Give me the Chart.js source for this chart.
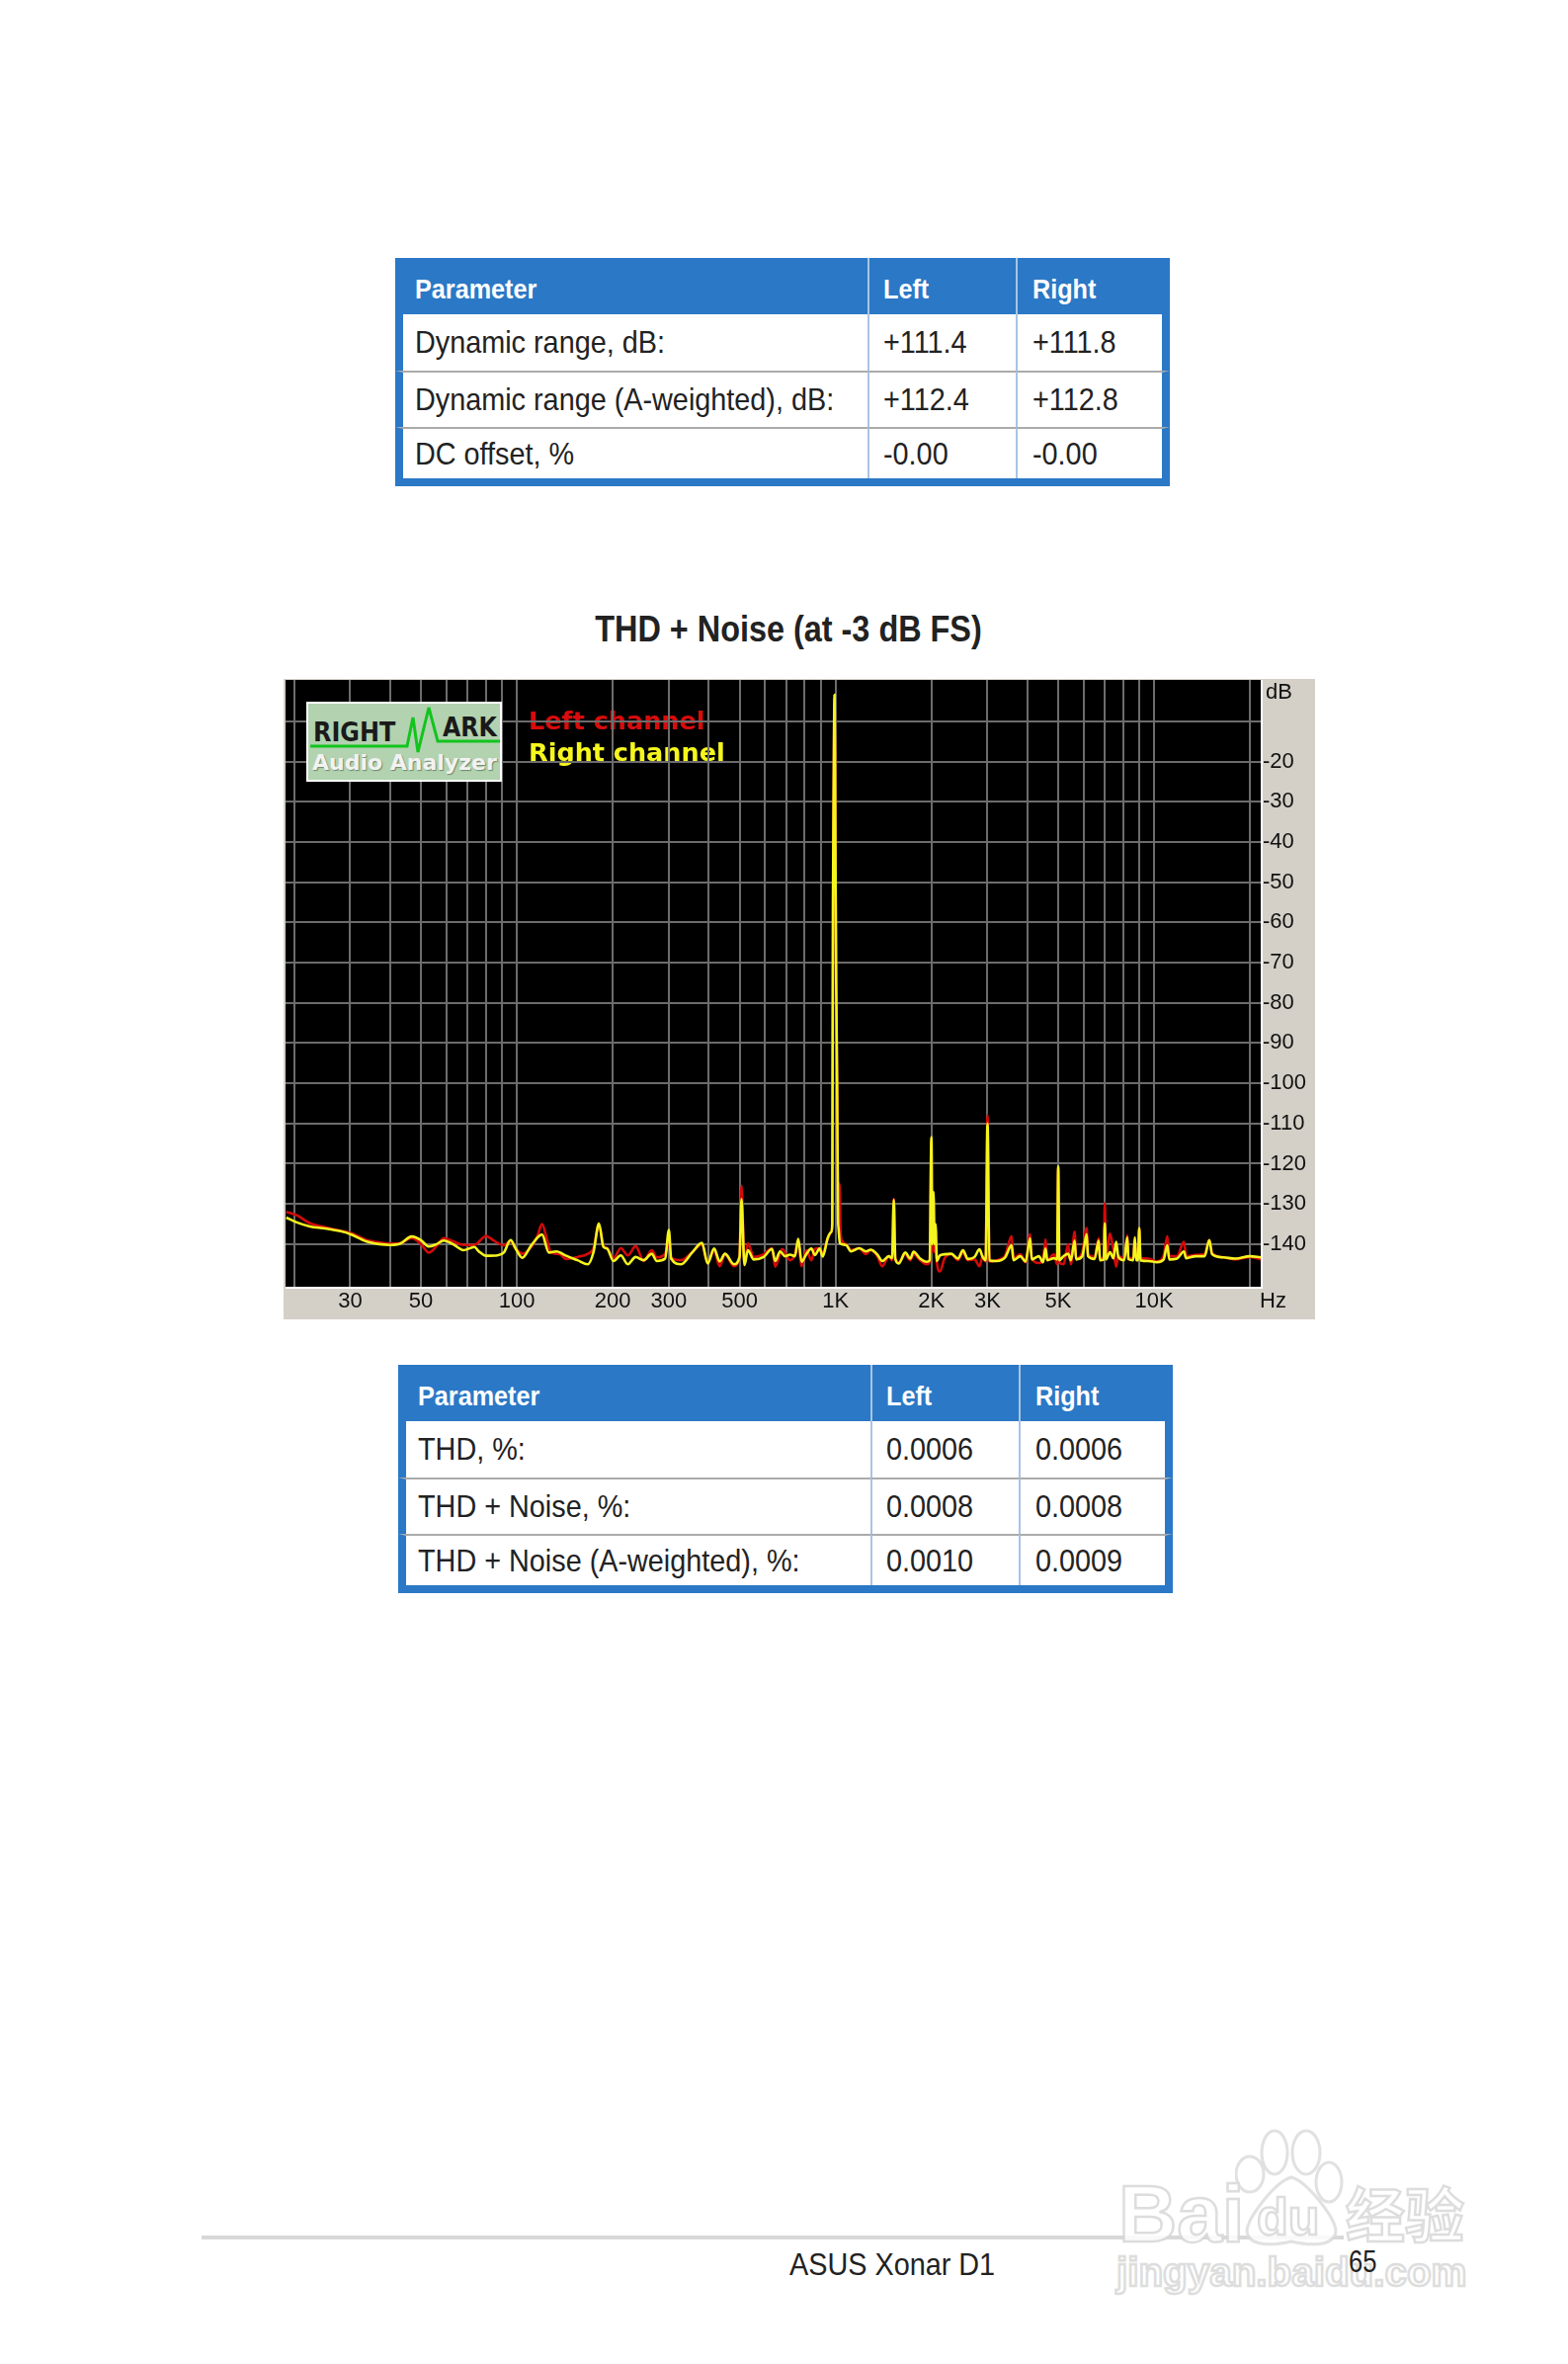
<!DOCTYPE html>
<html>
<head>
<meta charset="utf-8">
<title>THD + Noise</title>
<script src="https://cdn.jsdelivr.net/npm/chart.js@4"></script>
<style>
  html, body { margin: 0; padding: 0; background: #fff; }
  #page { position: relative; width: 1587px; height: 2392px; overflow: hidden; font-family: "Liberation Sans", Arial, sans-serif; color: #222; }
  .abs { position: absolute; white-space: nowrap; }
  table.params { position: absolute; table-layout: fixed; border-collapse: separate; border-spacing: 0; width: 784px; font-size: 32px; border-bottom: 8px solid #2b78c6; white-space: nowrap; }
  table.params th { background: #2b78c6; color: #fff; font-size: 28px; font-weight: bold; text-align: left; height: 57px; padding: 6px 0 0 0; box-sizing: border-box; }
  table.params td { background: #fff; height: 57px; padding: 0; box-sizing: border-box; border-top: 2px solid #ababab; }
  table.params th + th { border-left: 2px solid #a9c4e4; }
  table.params td + td { border-left: 2px solid #a9c4e4; }
  table.params tr > :first-child { border-left: 8px solid #2b78c6; padding-left: 12px; }
  table.params tr > :nth-child(2) { padding-left: 14px; }
  table.params tr > :nth-child(3) { border-right: 8px solid #2b78c6; padding-left: 15px; }
  table.params tr:nth-child(2) td { border-top: 0; }
  table.params span { display: inline-block; transform-origin: 0 50%; transform: scaleX(0.9); }
  #panel { position: absolute; left: 287px; top: 687px; }
  #logo { position: absolute; left: 310px; top: 710px; width: 198px; height: 81px; box-sizing: border-box; border: 2px solid #fff; background: #b2d2b0; overflow: hidden; font-family: "DejaVu Sans", sans-serif; font-weight: bold; }
  #logo div { position: absolute; white-space: nowrap; line-height: 1; transform-origin: 0 0; }
  #mark { opacity: 0.85; }
  #mark .w { position: absolute; white-space: nowrap; line-height: 1; color: #fff; -webkit-text-stroke: 2.5px #d8d8d8; font-weight: bold; }
</style>
</head>
<body>
<div id="page">
  <table class="params" id="table1" style="left:400px;top:261px"></table>

  <div class="abs" id="title" style="left:798px;top:637px;font-size:36px;font-weight:bold;transform:translate(-50%,-50%) scaleX(0.9);color:#222">THD + Noise (at -3 dB FS)</div>

  <canvas id="panel" width="1044" height="648"></canvas>

  <div id="logo">
    <div style="left:5px;top:16px;font-size:26px;color:#1a1a1a;transform:scaleX(0.92)">RIGHT</div>
    <div style="left:136px;top:11px;font-size:26px;color:#1a1a1a;transform:scaleX(0.91)">ARK</div>
    <svg width="194" height="77" style="position:absolute;left:0;top:0">
      <polyline points="2,43 100,43 106,14 111,49 122,4 131,38 194,38" fill="none" stroke="#12c41e" stroke-width="3"/>
    </svg>
    <div style="left:4px;top:49px;font-size:22px;color:#f2f2f2;text-shadow:1px 1px 1px #6d8a6c">Audio Analyzer</div>
  </div>

  <table class="params" id="table2" style="left:403px;top:1381px"></table>

  <div class="abs" style="left:204px;top:2262px;width:1156px;height:4px;background:#d8d8d8"></div>
  <div class="abs" style="left:799px;top:2291px;font-size:32px;transform-origin:0 50%;transform:translateY(-50%) scaleX(0.9)">ASUS Xonar D1</div>

  <div id="mark">
    <svg class="abs" style="left:1250px;top:2150px" width="120" height="130">
      <g fill="#fff" stroke="#dcdcdc" stroke-width="3">
        <ellipse cx="15" cy="50" rx="14" ry="18"/>
        <ellipse cx="40" cy="28" rx="13" ry="22"/>
        <ellipse cx="72" cy="28" rx="14" ry="22"/>
        <ellipse cx="95" cy="58" rx="13" ry="20"/>
        <path d="M57 53 C40 58 12 95 12 108 C14 124 40 122 57 118 C74 122 100 124 102 108 C102 95 74 58 57 53 Z"/>
      </g>
    </svg>
    <div class="w" style="left:1132px;top:2199px;font-size:82px">Bai</div>
    <div class="w" style="left:1272px;top:2217px;font-size:52px">du</div>
    <div class="w" style="left:1362px;top:2208px;font-size:60px;font-family:'Noto Sans CJK SC',sans-serif">经验</div>
    <div class="w" style="left:1130px;top:2279px;font-size:41px;transform-origin:0 0;transform:scaleX(0.985)">jingyan.baidu.com</div>
  </div>
  <div class="abs" style="left:1365px;top:2288px;font-size:32px;transform-origin:0 50%;transform:translateY(-50%) scaleX(0.8)">65</div>
</div>

<script>
// Tables
const tableHeader = ['Parameter', 'Left', 'Right'];
const dynamicRows = [
  ['Dynamic range, dB:', '+111.4', '+111.8'],
  ['Dynamic range (A-weighted), dB:', '+112.4', '+112.8'],
  ['DC offset, %', '-0.00', '-0.00']
];
const thdRows = [
  ['THD, %:', '0.0006', '0.0006'],
  ['THD + Noise, %:', '0.0008', '0.0008'],
  ['THD + Noise (A-weighted), %:', '0.0010', '0.0009']
];

// Axis ticks
const freqGrid = [20, 30, 40, 50, 60, 70, 80, 90, 100, 200, 300, 400, 500, 600, 700, 800, 900,
  1000, 2000, 3000, 4000, 5000, 6000, 7000, 8000, 9000, 10000, 20000];
const freqLabels = { 30: '30', 50: '50', 100: '100', 200: '200', 300: '300', 500: '500',
  1000: '1K', 2000: '2K', 3000: '3K', 5000: '5K', 10000: '10K' };
const dbGrid = [-10, -20, -30, -40, -50, -60, -70, -80, -90, -100, -110, -120, -130, -140];

// Spectrum, [Hz, dB]
const leftChannel = [
  [18.9,-132],[20.4,-132.8],[22.4,-134.8],[25,-135.8],[28,-136.7],[30,-137.2],[33.6,-138.9],[37,-139.6],
  [40,-139.9],[43,-139.8],[46.8,-138.5],[50,-140],[53,-142.1],[56,-140.5],[59,-138.5],[63,-139.3],
  [68,-140.2],[73.6,-140.2],[80,-138],[85,-139.2],[91,-140.3],[95.6,-139.3],[99,-141],[104,-142.4],
  [111,-140.7],[116,-138],[120,-135],[124,-138.5],[128,-142.1],[136,-142.5],[143,-143.7],[155,-143.2],
  [167,-142.4],[174,-141],[181,-135.2],[187,-140.5],[192,-141],[201,-143.5],[212,-141],[223,-142.8],
  [236,-140.5],[250,-144.2],[265,-141.5],[275,-143.3],[292,-142.4],[300,-139.5],[305,-143.4],[328,-144],
  [355,-142],[381,-140],[397,-144.5],[416,-141.5],[433,-145.5],[450,-142.5],[480,-145.5],[500,-143],
  [507,-125.5],[518,-145],[531,-139.8],[554,-143.2],[595,-142.5],[632,-141],[647,-145.6],[680,-141.2],
  [720,-144],[746,-142.5],[764,-139],[783,-145.5],[811,-141.5],[840,-144],[861,-141.2],[880,-141],
  [913,-142],[947,-138.5],[970,-137],[977,-135.5],
  [979,-105],[982,-58],[987,-28],[993,-4],[997,-24],[1000,-48],[1005,-78],[1012,-104],
  [1020,-128],[1029,-125],[1036,-136],[1045,-139],[1079,-140],
  [1118,-141.5],[1187,-141],[1245,-142.5],[1290,-141.5],[1353,-143],[1402,-145.5],[1470,-143],[1505,-144],
  [1524,-128.7],[1540,-143.5],[1579,-144.5],[1656,-142.5],[1716,-144],[1758,-142.5],[1843,-144],[1933,-145],
  [1975,-144.5],[2000,-114],[2012,-142],[2030,-128],[2045,-142],[2060,-136],[2080,-144.5],[2128,-146.8],
  [2200,-143.5],[2310,-142.5],[2423,-144],[2512,-142],[2603,-144],[2731,-143.8],[2830,-145.5],[2897,-143],
  [2960,-144.3],[3000,-108],[3040,-144.3],[3200,-144],[3400,-143],[3570,-138],[3620,-143.6],[3800,-142.5],
  [3950,-144.5],[4080,-137.5],[4130,-143.5],[4350,-144.7],[4480,-144],[4560,-138.8],[4620,-144],[4850,-142.5],
  [4960,-145],[5000,-121],[5040,-144.5],[5200,-145],[5370,-140],[5480,-145],[5630,-136.9],[5690,-143.5],
  [5950,-142],[6140,-136],[6200,-142.5],[6500,-143.2],[6700,-138.5],[6760,-143.5],[6950,-143.5],[7000,-129.8],
  [7060,-143.5],[7270,-137.4],[7450,-141.5],[7600,-145.6],[7720,-143],[8050,-143.5],[8240,-137.8],[8300,-143.5],
  [8600,-143.5],[8700,-138.3],[8780,-143.7],[8900,-143.7],[8980,-136],[9060,-143.5],[9600,-143.6],[10200,-144.3],
  [10700,-143],[11000,-138],[11150,-143],[11800,-143],[12400,-139.4],[12600,-143],[13500,-142.7],[14400,-142.5],
  [14900,-139],[15200,-142.3],[16500,-143.3],[18000,-143.8],[20000,-143.2],[21600,-143.8]
];
const rightChannel = [
  [18.9,-133.4],[20.4,-134.6],[22.4,-135.6],[25,-136.1],[28,-136.8],[30,-137.5],[33.6,-139.3],[37,-140],
  [40,-140.2],[43,-139.9],[46.8,-138.1],[50,-139],[53,-140.6],[56,-140],[59,-139.1],[63,-140],
  [68,-141.5],[73.6,-140.7],[76,-141.8],[80,-142.9],[87,-142.8],[91,-142.1],[95.6,-139],[99,-141],
  [104,-143.4],[111,-140.3],[120,-137.6],[126,-142.1],[133,-141.8],[143,-142.9],[155,-144],[167,-145],
  [174,-142],[181,-134.9],[187,-140.7],[192,-141.1],[201,-144.2],[212,-142.8],[223,-145],[236,-143.2],
  [250,-144],[265,-142.4],[275,-144.2],[292,-143.6],[300,-136.5],[305,-143.6],[328,-145],[355,-142.1],
  [381,-139.7],[397,-144.8],[416,-141.1],[433,-144.3],[450,-142.4],[480,-145],[500,-143.2],[507,-128.8],
  [518,-145.2],[531,-141.5],[554,-143.8],[595,-143.2],[632,-141.2],[647,-144.2],[670,-141.8],[695,-143],
  [720,-142.6],[746,-143],[764,-138.7],[783,-144.4],[811,-142.4],[840,-141.1],[861,-142.7],[892,-141.1],
  [912,-143.1],[947,-138.3],[970,-137],[977,-135],[979,-100],
  [982,-55],[987,-25],[993,-3.4],[997,-22],[1000,-45],[1005,-75],[1012,-100],[1018,-133],
  [1022,-136],[1032,-139.8],[1079,-140.2],[1118,-141.8],
  [1187,-141],[1245,-141.8],[1290,-141.4],[1353,-142.6],[1402,-144.2],[1470,-143],[1505,-143.5],[1524,-129],
  [1540,-143.6],[1579,-144.8],[1656,-142.1],[1716,-143.6],[1758,-141.9],[1843,-143.6],[1933,-144.4],[1975,-144],
  [2000,-113.4],[2012,-140],[2030,-127],[2045,-140],[2060,-135],[2080,-144.2],[2128,-142.8],[2310,-142.4],
  [2423,-143.6],[2512,-141.5],[2603,-143.7],[2731,-143.2],[2830,-141.3],[2897,-143.2],[2960,-144],[3000,-110],
  [3040,-144],[3200,-144.2],[3400,-143.4],[3570,-140.3],[3620,-144],[3800,-143],[3950,-144.3],[4080,-138.6],
  [4130,-143.8],[4350,-143],[4480,-144.5],[4560,-141.1],[4620,-144],[4850,-143.5],[4960,-143.8],[5000,-120.7],
  [5040,-144],[5200,-143],[5370,-142.4],[5480,-144],[5630,-139.1],[5690,-143.8],[5950,-143],[6140,-137.5],
  [6200,-143],[6500,-143.7],[6700,-139.1],[6760,-144],[6950,-143.8],[7000,-134.8],[7060,-143.8],[7270,-142],
  [7450,-143.5],[7600,-139.4],[7720,-143.2],[8050,-144],[8240,-138.3],[8300,-143.7],[8600,-144],[8700,-138.3],
  [8780,-144],[8900,-144],[8980,-136],[9060,-144],[9600,-144.2],[10200,-144.5],[10700,-143.9],[11000,-140.3],
  [11150,-143.8],[11800,-143.6],[12400,-141.8],[12600,-143.5],[13500,-143],[14400,-143],[14900,-139],[15200,-142.5],
  [16500,-143.3],[18000,-143.6],[20000,-143],[21600,-143.3]
];

function fillTable(id, rows) {
  const rowHeights = [57, 57, 52];
  const colWidths = [478, 150, 156];
  const head = tableHeader.map((t, i) => `<th style="width:${colWidths[i]}px"><span>${t}</span></th>`).join('');
  const body = rows.map((r, n) =>
    `<tr>${r.map(t => `<td style="height:${rowHeights[n]}px"><span>${t}</span></td>`).join('')}</tr>`).join('');
  document.getElementById(id).innerHTML = `<tr>${head}</tr>${body}`;
}
fillTable('table1', dynamicRows);
fillTable('table2', thdRows);

const toPoints = list => list.map(p => ({ x: p[0], y: p[1] }));

// Tick labels would otherwise pad the plot area in from the panel edge
const noScalePadding = scale => {
  scale.paddingTop = 0;
  scale.paddingBottom = 0;
  scale.paddingLeft = 0;
  scale.paddingRight = 0;
};

// Black plot background and channel names sit under the grid, the rest on top
const panelPlugin = {
  id: 'panelPlugin',
  beforeDraw(chart) {
    const { ctx, chartArea: a } = chart;
    ctx.save();
    ctx.fillStyle = '#d4d0c8';
    ctx.fillRect(0, 0, chart.width, chart.height);
    ctx.fillStyle = '#000';
    ctx.fillRect(a.left, a.top, a.right - a.left, a.bottom - a.top);
    ctx.font = 'bold 25.5px "DejaVu Sans"';
    ctx.textBaseline = 'middle';
    ctx.fillStyle = '#d80c0c';
    ctx.fillText('Left channel', 248, 44);
    ctx.fillStyle = '#f6f61e';
    ctx.fillText('Right channel', 248, 76);
    ctx.restore();
  },
  afterDraw(chart) {
    const { ctx, chartArea: a } = chart;
    ctx.save();
    ctx.fillStyle = '#fff';
    ctx.fillRect(a.left, a.bottom, a.right - a.left + 2, 2);
    ctx.fillRect(a.right, a.top, 2, a.bottom - a.top);
    ctx.fillStyle = '#111';
    ctx.font = '22px "Liberation Sans"';
    ctx.textBaseline = 'middle';
    ctx.fillText('dB', a.right + 5, 14);
    ctx.fillText('Hz', a.right - 1, 630);
    ctx.restore();
  }
};

new Chart(document.getElementById('panel'), {
  type: 'line',
  data: {
    datasets: [
      { label: 'Left channel', data: toPoints(leftChannel), borderColor: '#d40a0a', order: 2 },
      { label: 'Right channel', data: toPoints(rightChannel), borderColor: '#f4f41e', order: 1 }
    ]
  },
  options: {
    responsive: false,
    animation: false,
    layout: { autoPadding: false, padding: { left: 2, top: 1, right: 0, bottom: 0 } },
    elements: {
      point: { radius: 0 },
      line: { borderWidth: 2.6, cubicInterpolationMode: 'monotone' }
    },
    plugins: { legend: { display: false }, tooltip: { enabled: false } },
    scales: {
      x: {
        type: 'logarithmic',
        min: 18.8,
        max: 21600,
        afterBuildTicks: scale => { scale.ticks = freqGrid.map(v => ({ value: v })); },
        afterFit: scale => { scale.height = 33; noScalePadding(scale); },
        grid: { color: '#6c6c6c', lineWidth: 2, drawTicks: false },
        border: { display: false },
        ticks: {
          autoSkip: false,
          maxRotation: 0,
          padding: 2,
          color: '#111',
          font: { family: 'Liberation Sans', size: 22 },
          callback: value => freqLabels[value] || ''
        }
      },
      y: {
        position: 'right',
        min: -150.6,
        max: 0.3,
        afterBuildTicks: scale => { scale.ticks = dbGrid.map(v => ({ value: v })); },
        afterFit: scale => { scale.width = 55; noScalePadding(scale); },
        grid: { color: '#6c6c6c', lineWidth: 2, drawTicks: false },
        border: { display: false },
        ticks: {
          autoSkip: false,
          padding: 2,
          color: '#111',
          font: { family: 'Liberation Sans', size: 22 },
          callback: value => (value === -10 ? '' : String(value))
        }
      }
    }
  },
  plugins: [panelPlugin]
});
</script>
</body>
</html>
